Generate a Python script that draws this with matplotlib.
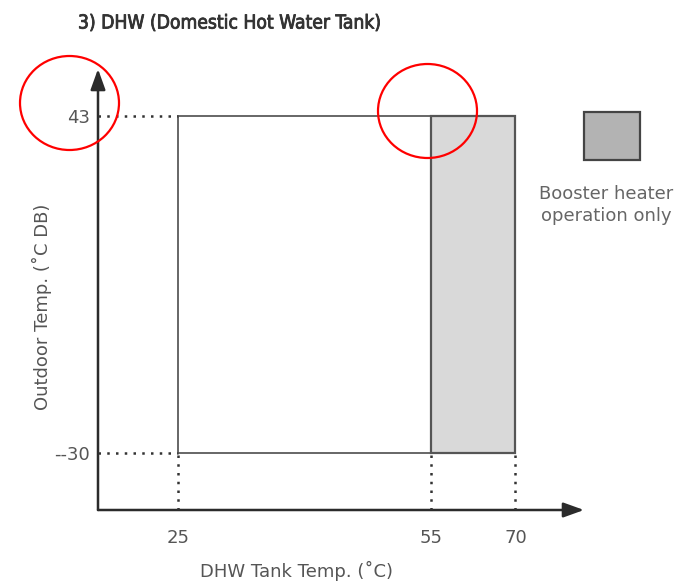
import numpy as np
import matplotlib
matplotlib.use("Agg")
import matplotlib.pyplot as plt
import matplotlib.patheffects as pe
from matplotlib.patches import Rectangle, Ellipse

# ---- data ----
x_ticks = [25, 55, 70]
x_tick_labels = ["25", "55", "70"]
y_ticks = [-30, 43]
y_tick_labels = ["--30", "43"]
dhw_min, dhw_max = 25, 55          # heat pump DHW range
booster_min, booster_max = 55, 70  # booster heater only
outdoor_min, outdoor_max = -30, 43

title = "3) DHW (Domestic Hot Water Tank)"
xlabel = "DHW Tank Temp. (˚C)"
ylabel = "Outdoor Temp. (˚C DB)"
legend_text = "Booster heater\noperation only"

plt.rcParams["font.family"] = ["DejaVu Sans"]

W, H = 697, 583
fig = plt.figure(figsize=(W / 100, H / 100), dpi=100)

# axes area in pixels (origin of arrows to their tips)
left_px, right_px, bottom_px, top_px = 98, 584, 510, 69
ax = fig.add_axes([left_px / W, (H - bottom_px) / H,
                   (right_px - left_px) / W, (bottom_px - top_px) / H])

# non-linear (piecewise) x scale: segment 55-70 drawn compressed
def fwd(x):
    x = np.asarray(x, dtype=float)
    return np.where(x <= 55, x, 55 + (x - 55) * (10 / 15))

def inv(d):
    d = np.asarray(d, dtype=float)
    return np.where(d <= 55, d, 55 + (d - 55) * 1.5)

ax.set_xscale("function", functions=(fwd, inv))
ax.set_xlim(15.5, 82.2)
ax.set_ylim(-42.4, 53.3)

for s in ax.spines.values():
    s.set_visible(False)

# axis arrows
arrow_kw = dict(arrowstyle="-|>,head_length=1.25,head_width=0.45",
                color="#2b2b2b", lw=1.8, mutation_scale=10,
                shrinkA=0, shrinkB=0)
ax.annotate("", xy=(1, 0), xytext=(0, 0), xycoords="axes fraction",
            arrowprops=arrow_kw)
ax.annotate("", xy=(0, 1), xytext=(0, 0), xycoords="axes fraction",
            arrowprops=arrow_kw)

# regions
ax.add_patch(Rectangle((dhw_min, outdoor_min), dhw_max - dhw_min,
                       outdoor_max - outdoor_min, facecolor="white",
                       edgecolor="#666666", lw=1.4, zorder=2))
ax.add_patch(Rectangle((booster_min, outdoor_min), booster_max - booster_min,
                       outdoor_max - outdoor_min, facecolor="#d9d9d9",
                       edgecolor="#555555", lw=1.6, zorder=3))

# dotted guide lines
dot_kw = dict(color="#333333", lw=1.8, linestyle=(0, (1, 2.5)), zorder=4)
x0 = ax.get_xlim()[0]
y0 = ax.get_ylim()[0]
for yv in y_ticks:
    ax.plot([x0, dhw_min], [yv, yv], **dot_kw)
for xv in x_ticks:
    ax.plot([xv, xv], [y0, outdoor_min], **dot_kw)

ax.set_xticks(x_ticks)
ax.set_xticklabels(x_tick_labels)
ax.set_yticks(y_ticks)
ax.set_yticklabels(y_tick_labels)
ax.tick_params(length=0, labelsize=13, labelcolor="#555555")
ax.tick_params(axis="x", pad=14)
ax.tick_params(axis="y", pad=6)
ax.minorticks_off()

fig.text(297 / W, 1 - 571 / H, xlabel, ha="center", va="center",
         fontsize=13, color="#555555")
fig.text(42 / W, 1 - 307 / H, ylabel, ha="center", va="center",
         rotation=90, fontsize=13, color="#555555")

fig.text(78 / W, 1 - 23 / H, title, ha="left", va="center",
         fontsize=13.8, color="#333333", fontstretch="condensed",
         fontweight="normal",
         path_effects=[pe.withStroke(linewidth=0.6, foreground="#333333")])

# legend swatch and label
fig.patches.append(Rectangle((584 / W, 1 - 160 / H), 56 / W, 48 / H,
                             transform=fig.transFigure, facecolor="#b3b3b3",
                             edgecolor="#444444", lw=1.6))
fig.text(606 / W, 1 - 205 / H, legend_text, ha="center", va="center",
         fontsize=13, color="#666666", linespacing=1.35)

# red highlight circles
for cx, cy in [(69.5, 103), (427.5, 111)]:
    fig.patches.append(Ellipse((cx / W, 1 - cy / H), 99 / W, 94 / H,
                               transform=fig.transFigure, facecolor="none",
                               edgecolor="red", lw=1.6, zorder=10))

fig.savefig("out.png", dpi=100)
